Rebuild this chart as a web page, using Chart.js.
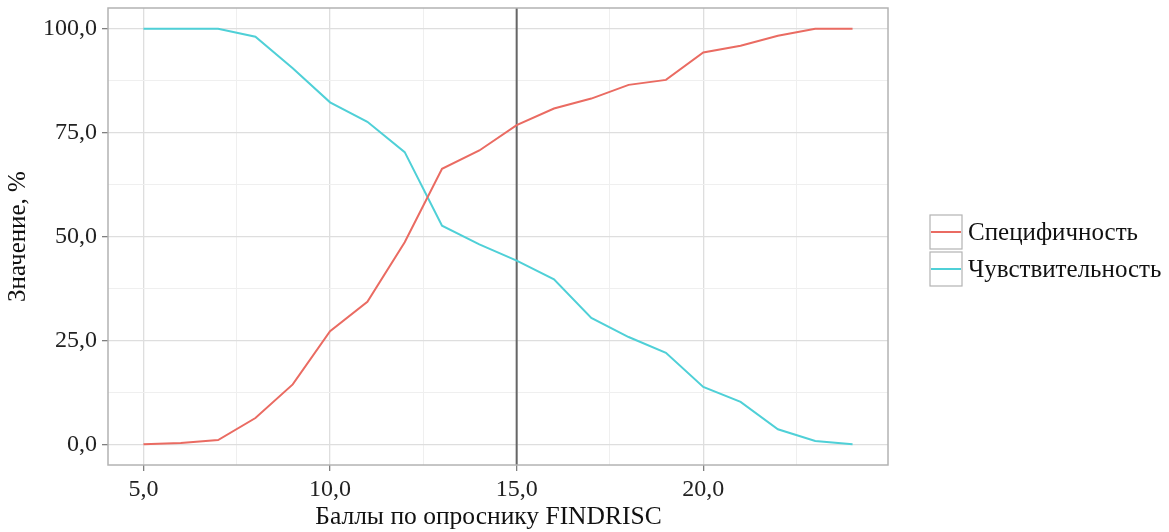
<!DOCTYPE html>
<html>
<head>
<meta charset="utf-8">
<script src="https://cdn.jsdelivr.net/npm/chart.js@4/dist/chart.umd.min.js"></script>
<style>
  html, body { margin: 0; padding: 0; background: #fff; }
  #wrap { width: 1169px; height: 532px; position: relative; }
</style>
</head>
<body>
<div id="wrap"><canvas id="myChart"></canvas></div>
<script>
// FINDRISC scores and curves
const scores = [5, 6, 7, 8, 9, 10, 11, 12, 13, 14, 15, 16, 17, 18, 19, 20, 21, 22, 23, 24];
const specificity = [0, 0.3, 1, 6.3, 14.4, 27.2, 34.3, 48.6, 66.3, 70.7, 76.8, 80.8, 83.2, 86.5, 87.7, 94.3, 95.9, 98.3, 100, 100];
const sensitivity = [100, 100, 100, 98.1, 90.5, 82.3, 77.6, 70.3, 52.6, 48.1, 44.2, 39.7, 30.4, 25.8, 22.0, 13.8, 10.2, 3.6, 0.8, 0];
const seriesNames = ["Специфичность", "Чувствительность"];
const xTicks = [5, 7.5, 10, 12.5, 15, 17.5, 20, 22.5];
const xMajor = [5, 10, 15, 20];
const yTicks = [0, 12.5, 25, 37.5, 50, 62.5, 75, 87.5, 100];
const yMajor = [0, 25, 50, 75, 100];
const cutoff = 15;

const colors = ["#ea6b62", "#4fd0d7"];
const FONT = "'Liberation Serif', 'DejaVu Serif', serif";

const fmt = (v) => v.toFixed(1).replace(".", ",");
const toPoints = (ys) => scores.map((x, i) => ({ x, y: ys[i] }));

// panel border, cutoff line and ggplot-like legend
const extras = {
  id: "extras",
  beforeDatasetsDraw(chart) {
    const { ctx, chartArea: a, scales } = chart;
    const px = scales.x.getPixelForValue(cutoff);
    ctx.save();
    ctx.strokeStyle = "#666666";
    ctx.lineWidth = 2;
    ctx.beginPath();
    ctx.moveTo(px, a.top);
    ctx.lineTo(px, a.bottom);
    ctx.stroke();
    ctx.restore();
  },
  afterDraw(chart) {
    const { ctx, chartArea: a } = chart;
    ctx.save();
    ctx.strokeStyle = "#b3b3b3";
    ctx.lineWidth = 1.5;
    ctx.strokeRect(a.left, a.top, a.right - a.left, a.bottom - a.top);

    const keyX = a.right + 42, keyW = 32, keyH = 34;
    const startY = 215;
    ctx.font = "25px " + FONT;
    ctx.textBaseline = "middle";
    ctx.textAlign = "left";
    seriesNames.forEach((name, i) => {
      const top = startY + i * (keyH + 3);
      ctx.fillStyle = "#ffffff";
      ctx.fillRect(keyX, top, keyW, keyH);
      ctx.strokeStyle = "#b3b3b3";
      ctx.lineWidth = 1.2;
      ctx.strokeRect(keyX, top, keyW, keyH);
      ctx.strokeStyle = colors[i];
      ctx.lineWidth = 2;
      ctx.beginPath();
      ctx.moveTo(keyX + 1, top + keyH / 2);
      ctx.lineTo(keyX + keyW - 1, top + keyH / 2);
      ctx.stroke();
      ctx.fillStyle = "#111111";
      ctx.fillText(name, keyX + keyW + 6, top + keyH / 2 + 1);
    });
    ctx.restore();
  },
};

const gridColor = (major) => (c) => major.includes(c.tick.value) ? "#dedede" : "#efefef";
const gridWidth = (major) => (c) => major.includes(c.tick.value) ? 1.3 : 1;
const tickColor = (major) => (c) => major.includes(c.tick.value) ? "#7f7f7f" : "rgba(0,0,0,0)";

const config = {
  type: "line",
  data: {
    datasets: [
      {
        label: seriesNames[0],
        data: toPoints(specificity),
        borderColor: colors[0],
        backgroundColor: colors[0],
        borderWidth: 2,
        pointRadius: 0,
        tension: 0,
      },
      {
        label: seriesNames[1],
        data: toPoints(sensitivity),
        borderColor: colors[1],
        backgroundColor: colors[1],
        borderWidth: 2,
        pointRadius: 0,
        tension: 0,
      },
    ],
  },
  options: {
    responsive: true,
    maintainAspectRatio: false,
    animation: false,
    layout: { padding: { left: 0, top: 8, right: 281, bottom: 0 } },
    plugins: {
      legend: { display: false },
      tooltip: { enabled: false },
    },
    scales: {
      x: {
        type: "linear",
        min: 4.05,
        max: 24.95,
        afterBuildTicks: (s) => { s.ticks = xTicks.map((v) => ({ value: v })); },
        afterFit: (s) => { s.height = 67; s.paddingLeft = 0; s.paddingRight = 0; },
        border: { display: false },
        grid: {
          color: gridColor(xMajor),
          lineWidth: gridWidth(xMajor),
          tickColor: tickColor(xMajor),
          tickLength: 6,
          tickWidth: 1.3,
        },
        ticks: {
          autoSkip: false,
          maxRotation: 0,
          padding: 4,
          color: "#222222",
          font: { family: FONT, size: 24 },
          callback: (v) => xMajor.includes(v) ? fmt(v) : "",
        },
        title: {
          display: true,
          // trailing no-break spaces nudge the centred title a little to the left, as in the original
          text: "Баллы по опроснику FINDRISC\u00a0\u00a0\u00a0",
          color: "#111111",
          font: { family: FONT, size: 25.5 },
          padding: { top: 0, bottom: -1 },
        },
      },
      y: {
        type: "linear",
        min: -5,
        max: 105,
        afterBuildTicks: (s) => { s.ticks = yTicks.map((v) => ({ value: v })); },
        afterFit: (s) => { s.width = 108; s.paddingTop = 0; s.paddingBottom = 0; },
        border: { display: false },
        grid: {
          color: gridColor(yMajor),
          lineWidth: gridWidth(yMajor),
          tickColor: tickColor(yMajor),
          tickLength: 6,
          tickWidth: 1.3,
        },
        ticks: {
          autoSkip: false,
          padding: 5,
          color: "#222222",
          font: { family: FONT, size: 24 },
          callback: (v) => yMajor.includes(v) ? fmt(v) : "",
        },
        title: {
          display: true,
          text: "Значение, %",
          color: "#111111",
          font: { family: FONT, size: 25 },
          padding: { top: 3, bottom: 0 },
        },
      },
    },
  },
  plugins: [extras],
};

const ctx = document.querySelector("#myChart");
const myChart = new Chart(ctx, config);
</script>
</body>
</html>
